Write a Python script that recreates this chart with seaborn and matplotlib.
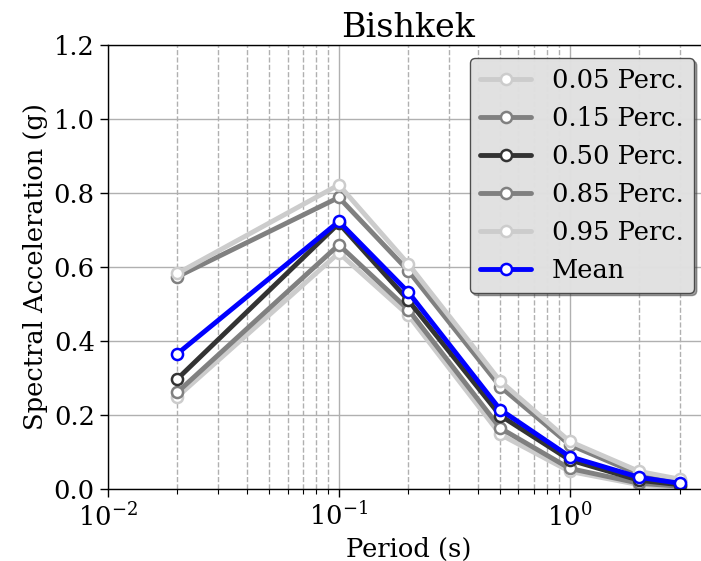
import matplotlib
matplotlib.use("Agg")
import matplotlib.pyplot as plt
import seaborn as sns
import pandas as pd

# data
period = [0.02, 0.1, 0.2, 0.5, 1.0, 2.0, 3.0]
p05 = [0.25, 0.638, 0.47, 0.148, 0.048, 0.012, 0.006]
p15 = [0.262, 0.66, 0.485, 0.165, 0.056, 0.016, 0.008]
p50 = [0.298, 0.718, 0.51, 0.199, 0.079, 0.024, 0.012]
p85 = [0.574, 0.788, 0.59, 0.277, 0.12, 0.04, 0.022]
p95 = [0.583, 0.822, 0.608, 0.292, 0.129, 0.048, 0.027]
mean = [0.366, 0.723, 0.532, 0.215, 0.088, 0.032, 0.016]

labels = ['0.05 Perc.', '0.15 Perc.', '0.50 Perc.', '0.85 Perc.', '0.95 Perc.', 'Mean']
series = [p05, p15, p50, p85, p95, mean]
colors = ['#cccccc', '#808080', '#333333', '#808080', '#cccccc', '#0000ff']

sns.set_theme(style='white')
plt.rcParams['font.family'] = ['DejaVu Serif']
plt.rcParams['mathtext.fontset'] = 'dejavuserif'
for k in ['text.color', 'axes.labelcolor', 'xtick.color', 'ytick.color']:
    plt.rcParams[k] = 'black'

fig = plt.figure(figsize=(7.01, 5.61), dpi=100)
ax = fig.add_axes([0.154, 0.128, 0.857, 0.792])

for lab, vals, c in zip(labels, series, colors):
    df = pd.DataFrame({'Period': period, 'SA': vals})
    sns.lineplot(data=df, x='Period', y='SA', ax=ax, color=c, lw=3.5,
                 marker='o', markersize=8, mfc='white', mec=c, mew=1.8,
                 label=lab)

ax.set_xscale('log')
ax.set_xlim(0.01, 4)
ax.set_ylim(0, 1.2)
ax.set_yticks([0, 0.2, 0.4, 0.6, 0.8, 1.0, 1.2])

# grids: solid major, dashed minor (vertical)
ax.grid(True, which='major', color='#b0b0b0', lw=1.0, ls='-')
ax.grid(True, which='minor', axis='x', color='#b0b0b0', lw=1.0, ls='--')
ax.set_axisbelow(True)

for s in ax.spines.values():
    s.set_color('black')
    s.set_linewidth(1.0)
ax.tick_params(axis='both', which='major', direction='out', length=6, width=1,
               labelsize=18.5, bottom=True, left=True, color='black')
ax.tick_params(axis='x', which='minor', direction='out', length=3.5, width=0.8,
               bottom=True, color='black')

ax.set_title('Bishkek', fontsize=24, color='black')
ax.set_xlabel('Period (s)', fontsize=18.5)
ax.set_ylabel('Spectral Acceleration (g)', fontsize=18.5)

leg = ax.legend(loc='upper right', bbox_to_anchor=(694 / 701, 1 - 58 / 561),
                bbox_transform=fig.transFigure, borderaxespad=0,
                fontsize=18.5, shadow=True, fancybox=True, framealpha=0.95,
                facecolor='#e5e5e5', edgecolor='#444444', handlelength=2.0)
leg.get_frame().set_linewidth(1.0)
for t in leg.get_texts():
    t.set_color('black')

fig.savefig('out.png', dpi=100)
